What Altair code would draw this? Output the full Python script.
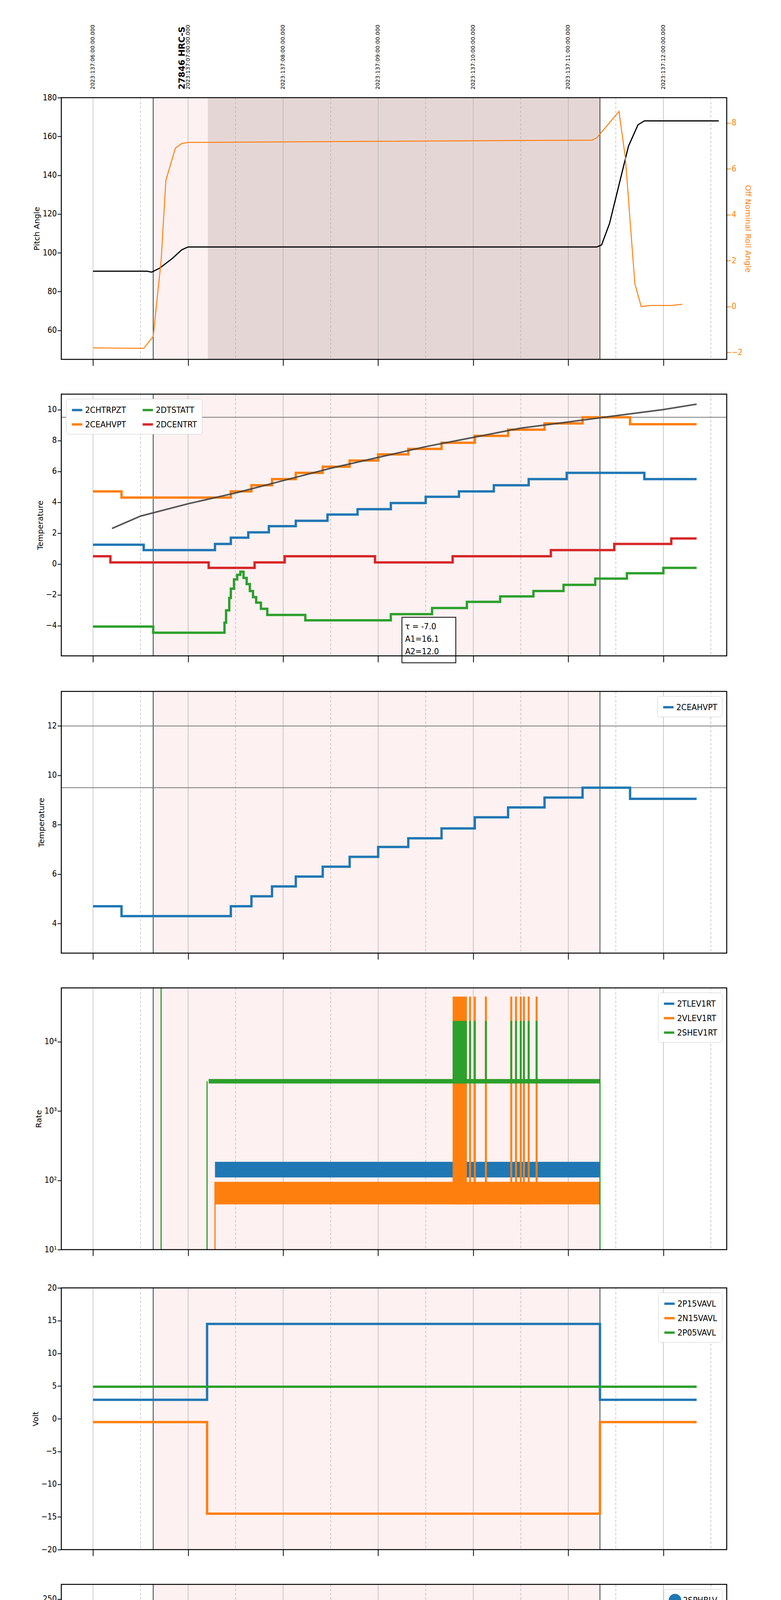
import altair as alt
import pandas as pd

DAY = "2023-05-17T"

# ---- shared time bits
hours = ["02:00", "03:00", "04:00", "05:00", "06:00", "07:00", "08:00"]
halves = ["02:30", "03:30", "04:30", "05:30", "06:30", "07:30", "08:30"]
top_labels = ["2023:137:06:00:00.000", "2023:137:07:00:00.000", "2023:137:08:00:00.000",
              "2023:137:09:00:00.000", "2023:137:10:00:00.000", "2023:137:11:00:00.000",
              "2023:137:12:00:00.000"]
obs_start, obs_stop = "02:38", "07:20"
science_start = "03:12:30"

# ---- panel 1: pitch / roll
pitch_t = ["02:00", "02:34", "02:37", "02:42", "02:50", "02:56", "03:00", "07:18", "07:21",
           "07:26", "07:32", "07:38", "07:44", "07:48", "07:50", "08:35"]
pitch_v = [90.5, 90.5, 90.0, 92.0, 97.0, 101.5, 103.0, 103.0, 104.0, 115.0, 135.0, 155.0,
           166.0, 168.0, 168.0, 168.0]
roll_t = ["02:00", "02:32", "02:38", "02:43", "02:46", "02:52", "02:56", "03:00", "05:00",
          "07:15", "07:18", "07:32", "07:36", "07:42", "07:46", "07:52", "08:05", "08:12"]
roll_v = [-1.8, -1.82, -1.3, 2.0, 5.5, 6.9, 7.1, 7.15, 7.2, 7.25, 7.35, 8.5, 6.5, 1.0, 0.0,
          0.05, 0.05, 0.1]

# ---- panel 2/3: temperatures (step-after)
chtrpzt_t = ["02:00", "02:32", "03:17", "03:27", "03:38", "03:51", "04:08", "04:28", "04:47",
             "05:08", "05:30", "05:51", "06:13", "06:35", "06:59", "07:48", "08:21"]
chtrpzt_v = [1.25, 0.9, 1.3, 1.7, 2.05, 2.45, 2.8, 3.2, 3.55, 3.95, 4.35, 4.7, 5.1, 5.5,
             5.9, 5.5, 5.5]
ceahvpt_t = ["02:00", "02:18", "03:27", "03:40", "03:53", "04:08", "04:25", "04:42", "05:00",
             "05:19", "05:40", "06:01", "06:22", "06:45", "07:09", "07:39", "08:21"]
ceahvpt_v = [4.7, 4.3, 4.7, 5.1, 5.5, 5.9, 6.3, 6.7, 7.1, 7.45, 7.85, 8.3, 8.7, 9.1, 9.5,
             9.05, 9.05]
dtstatt_t = ["02:00", "02:38", "03:23", "03:24", "03:26", "03:27", "03:29", "03:31", "03:33",
             "03:35", "03:37", "03:39", "03:41", "03:43", "03:46", "03:50", "03:56", "04:14",
             "05:08", "05:34", "05:56", "06:17", "06:38", "06:57", "07:17", "07:37", "08:00",
             "08:21"]
dtstatt_v = [-4.05, -4.45, -3.8, -3.0, -2.2, -1.6, -1.0, -0.7, -0.5, -0.9, -1.3, -1.75,
             -2.15, -2.5, -2.9, -3.3, -3.3, -3.65, -3.25, -2.85, -2.45, -2.1, -1.75, -1.35,
             -0.95, -0.6, -0.25, -0.25]
dcentrt_t = ["02:00", "02:11", "03:13", "03:42", "04:01", "04:58", "05:47", "06:49", "07:29",
             "08:05", "08:21"]
dcentrt_v = [0.5, 0.1, -0.25, 0.1, 0.5, 0.1, 0.5, 0.9, 1.3, 1.65, 1.65]
model_t = ["02:12", "02:30", "03:00", "03:30", "04:00", "04:30", "05:00", "05:30", "06:00",
           "06:30", "07:00", "07:30", "08:00", "08:21"]
model_v = [2.3, 3.1, 3.9, 4.6, 5.4, 6.2, 6.9, 7.6, 8.2, 8.8, 9.2, 9.6, 10.0, 10.35]
fit_text = ["τ = -7.0", "A1=16.1", "A2=12.0"]

# ---- panel 5: voltages
volt_t = ["02:00", "03:12", "07:20", "08:21"]
p15_v = [2.9, 14.5, 2.9, 2.9]
n15_v = [-0.5, -14.5, -0.5, -0.5]
p05_v = [4.9, 4.9, 4.9, 4.9]

# ---- panel 6: HV monitor
sphblv_t = ["03:12", "03:13", "03:14", "03:15", "07:20"]
sphblv_v = [103, 90, 80, 77, 77]
sphvlv_t = ["03:12", "03:12:30", "03:13", "03:14", "03:15", "07:20"]
sphvlv_v = [127, 118, 100, 80, 72, 72]
hv_blip_t = [("05:43", "05:56"), ("06:25", "06:28"), ("06:33", "06:35")]
hv_blip_v = 127

# ---- panel 7: detector temps
spinatm_t = ["03:17", "03:18", "03:23", "03:24", "03:25", "03:26", "03:27", "03:28", "03:29",
             "03:30", "03:31", "03:33", "03:36", "03:38", "03:40", "03:42", "03:44", "03:49",
             "03:53", "04:00", "04:09", "04:37", "05:13", "06:22", "07:11", "07:20"]
spinatm_v = [2.0, 2.3, 2.8, 3.3, 3.8, 4.3, 5.0, 5.6, 6.2, 6.8, 7.5, 7.5, 7.0, 6.5, 6.0, 5.5,
             5.0, 4.5, 4.1, 3.7, 3.25, 2.85, 3.25, 3.7, 4.1, 4.1]
sphvatm_t = ["03:12", "03:20", "03:25", "03:30", "03:35", "03:40", "03:46", "03:49", "03:55",
             "04:02", "04:10", "04:18", "04:27", "04:36", "04:46", "04:57", "05:09", "05:20",
             "05:36", "05:55", "06:11", "06:28", "06:48", "07:07", "07:20"]
sphvatm_v = [13.85, 14.15, 14.45, 14.7, 15.0, 15.3, 15.6, 15.85, 16.1, 16.4, 16.7, 16.95,
             17.25, 17.5, 17.8, 18.1, 18.4, 18.7, 19.0, 19.3, 19.55, 19.85, 20.15, 20.5, 20.5]
iminatm_t = ["03:12", "06:13", "07:20"]
iminatm_v = [1.5, 1.95, 1.95]
imhvatm_t = ["03:12", "03:12:10", "03:50", "04:07", "04:21", "04:36", "04:51", "05:06",
             "05:23", "05:40", "06:01", "06:16", "06:34", "06:53", "07:13", "07:20", "07:20:10"]
imhvatm_v = [0, 13.3, 13.6, 13.85, 14.15, 14.4, 14.7, 14.95, 15.3, 15.55, 15.85, 16.1, 16.4,
             16.7, 16.95, 21.5, 21.5]

# ---- panel 8: FEA temps
fhtrmzt_t = ["02:00", "02:02", "02:44", "03:29", "03:39", "03:46", "03:55", "04:04", "04:13",
             "04:23", "04:33", "04:42", "04:52", "05:02", "05:13", "05:25", "05:36", "05:47",
             "06:00", "06:12", "06:24", "06:36", "06:50", "07:04", "07:18", "07:39", "08:02",
             "08:21"]
fhtrmzt_v = [-8.0, -8.4, -8.85, -8.4, -8.0, -7.6, -7.2, -6.8, -6.4, -6.0, -5.6, -5.2, -4.8,
             -4.4, -4.0, -3.65, -3.25, -2.9, -2.5, -2.1, -1.75, -1.35, -1.0, -0.6, -0.25, -0.6,
             -1.0, -1.0]
fradpyt_t = ["03:38", "03:47", "03:57", "04:06", "04:16", "04:26", "04:37", "04:48", "05:00",
             "05:11", "05:23", "05:36", "05:49", "06:02", "06:17", "06:31", "06:46", "07:01",
             "08:21"]
fradpyt_v = [-10.6, -10.1, -9.6, -9.2, -8.8, -8.4, -8.0, -7.6, -7.2, -6.8, -6.4, -6.0, -5.6,
             -5.2, -4.8, -4.4, -4.05, -3.65, -3.25]
fepratm_t = ["03:17", "03:19", "03:21", "03:23", "03:26", "03:31", "03:37", "03:44", "03:52",
             "04:00", "04:09", "04:18", "04:28", "04:38", "04:49", "05:00", "05:12", "05:25",
             "05:38", "05:51", "06:06", "06:16", "06:26", "06:36", "06:57", "07:13", "07:20"]
fepratm_v = [-7.4, -7.0, -6.6, -6.2, -5.8, -5.4, -5.0, -4.6, -4.2, -3.8, -3.4, -3.0, -2.6,
             -2.2, -1.8, -1.4, -1.0, -0.6, -0.2, 0.25, 0.65, 0.85, 1.05, 1.45, 1.95, 2.35, 2.35]
fe00atm_t = ["03:12", "03:12:10", "03:23", "03:29", "03:35", "03:42", "03:50", "03:56",
             "04:05", "04:16", "04:24", "04:35", "04:47", "04:57", "05:05", "05:11", "05:21",
             "05:32", "05:41", "05:52", "06:02", "06:12", "06:21", "06:36", "06:43", "06:49",
             "07:01", "07:20", "07:20:10"]
fe00atm_v = [-11, -6.75, -6.35, -6.0, -5.6, -5.2, -4.9, -4.5, -4.1, -3.7, -3.3, -2.9, -2.5,
             -2.1, -1.75, -1.4, -1.0, -0.6, -0.2, 0.25, 0.65, 0.85, 1.05, 1.4, 1.7, 2.0, 2.35,
             3.0, 3.0]

# telemetry dropouts (spiky regions)
burst = ("05:47", "05:56")
spikes = ["05:58", "06:01", "06:08", "06:24", "06:27", "06:30", "06:32", "06:35", "06:40"]

COLORS = ["#1f77b4", "#ff7f0e", "#2ca02c", "#d62728"]
W, H = 1704, 670
FONT = "DejaVu Sans"
NUM_FONT = "DejaVu Sans Condensed, Liberation Sans, sans-serif"


def ts(hm):
    if hm.count(":") == 1:
        hm += ":00"
    return DAY + hm + "Z"


def dt(hm):
    h, m = hm.split(":")[:2]
    return alt.DateTime(year=2023, month=5, date=17, hours=int(h), minutes=int(m), utc=True)


XDOM = [dt("01:40"), dt("08:40")]


def xenc(field="t", bottom=False):
    if bottom:
        axis = alt.Axis(
            values=[dt(h) for h in sorted(hours + halves)],
            labelExpr="utcminutes(datum.value) == 30 ? '30' : utcFormat(datum.value, '%Hh')",
            labelFontSize={"condition": {"test": "utcminutes(datum.value) == 30", "value": 11}, "value": 19},
            tickSize={"condition": {"test": "utcminutes(datum.value) == 30", "value": 6}, "value": 16},
            title="2023-05-17 (137)", titleFontSize=22, titleFont=NUM_FONT, titleFontWeight="normal",
            labelFont=NUM_FONT, grid=False, domain=False, tickColor="black", tickWidth=2,
            labelColor="black", titleColor="black", labelPadding=4,
        )
    else:
        axis = alt.Axis(values=[dt(h) for h in hours], labels=False, title=None, grid=False,
                        domain=False, tickSize=16, tickColor="black", tickWidth=2)
    return alt.X(f"{field}:T", scale=alt.Scale(type="utc", domain=XDOM), axis=axis)


def yaxis(title, **kw):
    opts = dict(title=title, grid=False, domain=False, tickColor="black", tickWidth=2,
                tickSize=10, labelFont=NUM_FONT, labelFontSize=21, labelColor="black",
                titleFont=FONT, titleFontSize=20, titleFontWeight="normal", titleColor="black")
    opts.update(kw)
    return alt.Axis(**opts)


def series(names, times, values):
    rows = []
    for n, tt, vv in zip(names, times, values):
        for a, b in zip(tt, vv):
            rows.append({"name": n, "t": ts(a), "v": b})
    return pd.DataFrame(rows)


def backdrop(dark=False):
    shade = pd.DataFrame([{"t": ts(obs_start), "t2": ts(obs_stop)}])
    layers = [alt.Chart(shade).mark_rect(color="#fdeeee", opacity=0.8).encode(x=xenc(), x2="t2:T")]
    if dark:
        sci = pd.DataFrame([{"t": ts(science_start), "t2": ts(obs_stop)}])
        layers.append(alt.Chart(sci).mark_rect(color="#ded0d0", opacity=0.8).encode(x=xenc(), x2="t2:T"))
    layers.append(alt.Chart(pd.DataFrame({"t": [ts(h) for h in hours]}))
                  .mark_rule(color="#aaaaaa", strokeWidth=1.2).encode(x=xenc()))
    layers.append(alt.Chart(pd.DataFrame({"t": [ts(h) for h in halves]}))
                  .mark_rule(color="#aaaaaa", strokeWidth=1.2, strokeDash=[6, 5]).encode(x=xenc()))
    layers.append(alt.Chart(pd.DataFrame({"t": [ts(obs_start), ts(obs_stop)]}))
                  .mark_rule(color="black", strokeWidth=1.5).encode(x=xenc()))
    return layers


def color_enc(names, legend):
    return alt.Color("name:N", scale=alt.Scale(domain=names, range=COLORS[:len(names)]),
                     legend=legend)


def legend(orient="top-right", columns=1, symbol="stroke"):
    return alt.Legend(title=None, orient=orient, columns=columns, fillColor="white",
                      strokeColor="#cccccc", cornerRadius=6, padding=12, labelFont=NUM_FONT,
                      labelFontSize=22, symbolType=symbol, symbolStrokeWidth=6, symbolSize=700,
                      rowPadding=8, columnPadding=30, offset=12, labelColor="black")


def frame():
    return alt.Chart(pd.DataFrame({"a": [0]})).mark_rect(
        fill=None, stroke="black", strokeWidth=2.5
    ).encode(x=alt.value(0), x2=alt.value(W), y=alt.value(0), y2=alt.value(H))


def steps(df, names, leg, y, width=6):
    return alt.Chart(df).mark_line(interpolate="step-after", strokeWidth=width, clip=True).encode(
        x=xenc(), y=y, color=color_enc(names, leg), detail="name:N")


def spike_layer(specs, ydom):
    """specs: list of (color, lo, hi) drawn as a burst block plus single spikes."""
    layers = []
    for c, lo, hi in specs:
        blk = pd.DataFrame([{"t": ts(burst[0]), "t2": ts(burst[1]), "lo": lo, "hi": hi}])
        layers.append(alt.Chart(blk).mark_rect(color=c, clip=True).encode(
            x=xenc(), x2="t2:T", y=alt.Y("lo:Q", scale=ydom), y2="hi:Q"))
        sp = pd.DataFrame([{"t": ts(s), "lo": lo, "hi": hi} for s in spikes])
        layers.append(alt.Chart(sp).mark_rule(color=c, strokeWidth=5, clip=True).encode(
            x=xenc(), y=alt.Y("lo:Q", scale=ydom), y2="hi:Q"))
    return layers


# ================= panel 1
p1 = pd.DataFrame({"t": [ts(a) for a in pitch_t], "v": pitch_v})
r1 = pd.DataFrame({"t": [ts(a) for a in roll_t], "v": roll_v})
lab = pd.DataFrame({"t": [ts(h) for h in hours], "lab": top_labels})
pitch = alt.Chart(p1).mark_line(color="black", strokeWidth=3).encode(
    x=xenc(), y=alt.Y("v:Q", scale=alt.Scale(domain=[45, 180], nice=False),
                      axis=yaxis("Pitch Angle", values=[60, 80, 100, 120, 140, 160, 180])))
roll = alt.Chart(r1).mark_line(color="#ff7f0e", strokeWidth=2.5).encode(
    x=xenc(), y=alt.Y("v:Q", scale=alt.Scale(domain=[-2.3, 9.1], nice=False),
                      axis=yaxis("Off Nominal Roll Angle", orient="right", values=[-2, 0, 2, 4, 6, 8],
                                 labelColor="#ff7f0e", titleColor="#ff7f0e", tickColor="#ff7f0e")))
toplab = alt.Chart(lab).mark_text(angle=270, align="left", baseline="middle", font=FONT,
                                  fontSize=14, dx=21).encode(x=xenc(), y=alt.value(0), text="lab:N")
obsid = alt.Chart(pd.DataFrame({"t": [ts("03:00")], "lab": ["27846 HRC-S"]})).mark_text(
    angle=270, align="left", baseline="middle", font=FONT, fontSize=22, fontWeight="bold",
    dx=21, dy=-16).encode(x=xenc(), y=alt.value(0), text="lab:N")
panel1 = alt.layer(
    alt.layer(*backdrop(dark=True), pitch, toplab, obsid),
    roll, frame()
).resolve_scale(y="independent").properties(width=W, height=H)

# ================= panel 2
n2 = ["2CHTRPZT", "2CEAHVPT", "2DTSTATT", "2DCENTRT"]
d2 = series(n2, [chtrpzt_t, ceahvpt_t, dtstatt_t, dcentrt_t],
            [chtrpzt_v, ceahvpt_v, dtstatt_v, dcentrt_v])
y2s = alt.Scale(domain=[-5.95, 11.0], nice=False)
y2 = alt.Y("v:Q", scale=y2s, axis=yaxis("Temperature", values=[-4, -2, 0, 2, 4, 6, 8, 10]))
model = alt.Chart(pd.DataFrame({"t": [ts(a) for a in model_t], "v": model_v})).mark_line(
    color="#444444", strokeWidth=4, opacity=0.9).encode(x=xenc(), y=alt.Y("v:Q", scale=y2s))
limit2 = alt.Chart(pd.DataFrame({"v": [9.5]})).mark_rule(color="#777777", strokeWidth=2).encode(
    y=alt.Y("v:Q", scale=y2s))
box = pd.DataFrame([{"t": ts("05:15"), "t2": ts("05:49"), "lo": -6.4, "hi": -3.45}])
boxr = alt.Chart(box).mark_rect(fill="white", stroke="black", strokeWidth=2).encode(
    x=xenc(), x2="t2:T", y=alt.Y("lo:Q", scale=y2s), y2="hi:Q")
btxt = pd.DataFrame({"t": [ts("05:17")] * 3, "v": [-4.06, -4.86, -5.68], "s": fit_text})
boxt = alt.Chart(btxt).mark_text(align="left", font=NUM_FONT, fontSize=22).encode(
    x=xenc(), y=alt.Y("v:Q", scale=y2s), text="s:N")
panel2 = alt.layer(*backdrop(), limit2, steps(d2, n2, legend("top-left", 2), y2), model, boxr,
                   boxt, frame()).properties(width=W, height=H)

# ================= panel 3
n3 = ["2CEAHVPT"]
d3 = series(n3, [ceahvpt_t], [ceahvpt_v])
y3s = alt.Scale(domain=[2.8, 13.4], nice=False)
limits3 = alt.Chart(pd.DataFrame({"v": [12.0, 9.5]})).mark_rule(color="#777777", strokeWidth=2).encode(
    y=alt.Y("v:Q", scale=y3s))
panel3 = alt.layer(*backdrop(), limits3,
                   steps(d3, n3, legend(), alt.Y("v:Q", scale=y3s, axis=yaxis(
                       "Temperature", values=[4, 6, 8, 10, 12], format="d"))),
                   frame()).properties(width=W, height=H)

# ================= panel 4 (rates, log)
n4 = ["2TLEV1RT", "2VLEV1RT", "2SHEV1RT"]
y4s = alt.Scale(type="log", domain=[10, 60000], nice=False)
bands = pd.DataFrame([
    {"name": "2TLEV1RT", "t": ts("03:17"), "t2": ts("07:20"), "lo": 110, "hi": 185},
    {"name": "2VLEV1RT", "t": ts("03:17"), "t2": ts("07:20"), "lo": 45, "hi": 95},
    {"name": "2SHEV1RT", "t": ts("03:13"), "t2": ts("07:20"), "lo": 2500, "hi": 2900},
])
legdummy = alt.Chart(pd.DataFrame({"name": n4, "t": [ts("02:00")] * 3, "v": [10.0] * 3})).mark_line(
    strokeWidth=0).encode(
    x=xenc(),
    y=alt.Y("v:Q", scale=y4s, axis=yaxis(
        "Rate", values=[10, 100, 1000, 10000],
        labelExpr="'10' + ['⁰','¹','²','³','⁴','⁵'][round(log(datum.value) / LN10)]")),
    color=color_enc(n4, legend()))
band_layers = []
for n, c in zip(n4, COLORS):
    band_layers.append(alt.Chart(bands[bands.name == n]).mark_rect(color=c).encode(
        x=xenc(), x2="t2:T", y=alt.Y("lo:Q", scale=y4s), y2="hi:Q"))
    if n == "2TLEV1RT":
        band_layers += spike_layer([("#ff7f0e", 45, 45000)], y4s)
band_layers += spike_layer([("#2ca02c", 2500, 20000)], y4s)
rises = pd.DataFrame([
    {"t": ts("02:43"), "lo": 10, "hi": 60000},
    {"t": ts("03:12"), "lo": 10, "hi": 2700},
    {"t": ts("07:20"), "lo": 10, "hi": 2700},
])
rise_g = alt.Chart(rises).mark_rule(color="#2ca02c", strokeWidth=3).encode(
    x=xenc(), y=alt.Y("lo:Q", scale=y4s), y2="hi:Q")
rise_o = alt.Chart(pd.DataFrame([{"t": ts("03:17"), "lo": 10, "hi": 95}])).mark_rule(
    color="#ff7f0e", strokeWidth=3).encode(x=xenc(), y=alt.Y("lo:Q", scale=y4s), y2="hi:Q")
panel4 = alt.layer(*backdrop(), legdummy, *band_layers, rise_g, rise_o, frame()).properties(width=W, height=H)

# ================= panel 5
n5 = ["2P15VAVL", "2N15VAVL", "2P05VAVL"]
d5 = series(n5, [volt_t] * 3, [p15_v, n15_v, p05_v])
panel5 = alt.layer(*backdrop(), steps(d5, n5, legend(), alt.Y(
    "v:Q", scale=alt.Scale(domain=[-20, 20], nice=False),
    axis=yaxis("Volt", values=list(range(-20, 21, 5))))), frame()).properties(width=W, height=H)

# ================= panel 6
n6 = ["2SPHBLV", "2SPHVLV", "2IMHVLV", "2IMHBLV"]
y6s = alt.Scale(domain=[0, 265], nice=False)
d6 = series(n6[:2], [sphblv_t, sphvlv_t], [sphblv_v, sphvlv_v])
d6 = pd.concat([d6, pd.DataFrame({"name": ["2IMHVLV", "2IMHBLV"], "t": [ts("02:00")] * 2, "v": [-50, -50]})])
hv = alt.Chart(d6).mark_line(strokeWidth=7, clip=True, point=alt.OverlayMarkDef(size=30, clip=True)).encode(
    x=xenc(), y=alt.Y("v:Q", scale=y6s, axis=yaxis("HV Monitor", values=[0, 50, 100, 150, 200, 250])),
    color=color_enc(n6, legend(symbol="circle")), detail="name:N")
blip = pd.DataFrame([{"t": ts(a), "t2": ts(b), "v": hv_blip_v} for a, b in hv_blip_t])
blips = alt.Chart(blip).mark_rule(color="#ff7f0e", strokeWidth=7).encode(
    x=xenc(), x2="t2:T", y=alt.Y("v:Q", scale=y6s))
panel6 = alt.layer(*backdrop(), hv, blips, frame()).properties(width=W, height=H)

# ================= panel 7
n7 = ["2SPINATM", "2SPHVATM", "2IMINATM", "2IMHVATM"]
y7s = alt.Scale(domain=[0, 21.1], nice=False)
d7 = series(n7, [spinatm_t, sphvatm_t, iminatm_t, imhvatm_t],
            [spinatm_v, sphvatm_v, iminatm_v, imhvatm_v])
panel7 = alt.layer(
    *backdrop(),
    steps(d7, n7, legend(), alt.Y("v:Q", scale=y7s, axis=yaxis(
        "Detector Temp", values=[0, 2.5, 5, 7.5, 10, 12.5, 15, 17.5, 20], format=".1f"))),
    *spike_layer([("#ff7f0e", 10.9, 19.0), ("#1f77b4", 0, 3.3), ("#2ca02c", 1.5, 3.3),
                  ("#d62728", 15.6, 19.3)], y7s),
    frame()).properties(width=W, height=H)

# ================= panel 8
n8 = ["2FHTRMZT", "2FRADPYT", "2FEPRATM", "2FE00ATM"]
y8s = alt.Scale(domain=[-10.7, 2.5], nice=False)
d8 = series(n8, [fhtrmzt_t, fradpyt_t, fepratm_t, fe00atm_t],
            [fhtrmzt_v, fradpyt_v, fepratm_v, fe00atm_v])
panel8 = alt.layer(
    *backdrop(),
    alt.Chart(d8).mark_line(interpolate="step-after", strokeWidth=6, clip=True).encode(
        x=xenc(bottom=True),
        y=alt.Y("v:Q", scale=y8s, axis=yaxis("FEA Temp", values=[-10, -8, -6, -4, -2, 0, 2])),
        color=color_enc(n8, legend("bottom-right")), detail="name:N"),
    *spike_layer([("#2ca02c", -4.6, 0.65), ("#d62728", 0.0, 2.5)], y8s),
    frame()).properties(width=W, height=H)

chart = alt.vconcat(panel1, panel2, panel3, panel4, panel5, panel6, panel7, panel8, spacing=70).resolve_scale(
    color="independent").configure_view(stroke=None).properties(
    padding={"left": 70, "top": 55, "right": 20, "bottom": 10}, background="white")

chart.save("out.html", embed_options={"renderer": "svg", "actions": False})
